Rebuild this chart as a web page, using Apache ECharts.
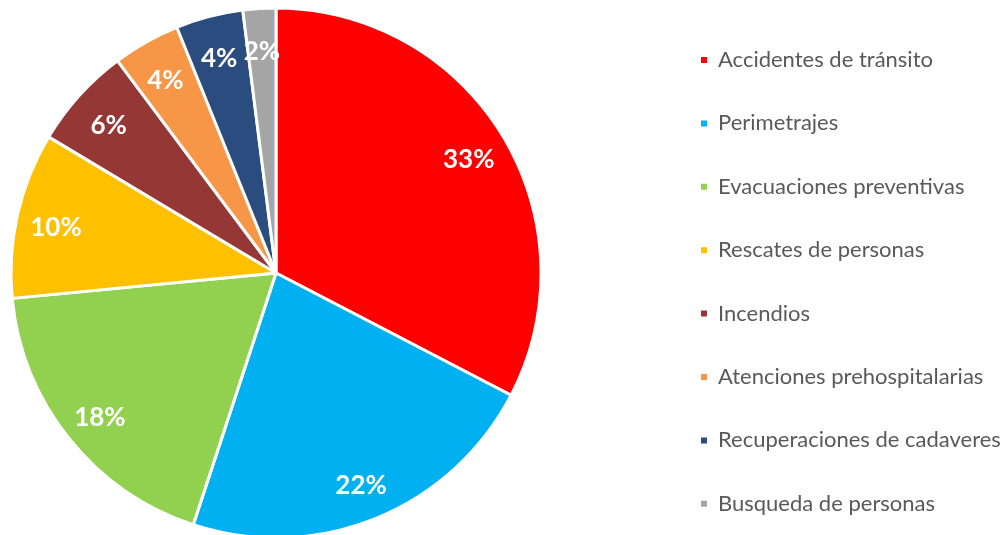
<!DOCTYPE html>
<html>
<head>
<meta charset="utf-8">
<script src="https://cdn.jsdelivr.net/npm/echarts@6/dist/echarts.min.js"></script>
<style>
  html, body { margin: 0; padding: 0; background: #fff; }
  #chart { width: 1008px; height: 535px; }
</style>
</head>
<body>
<div id="chart"></div>
<script>
var categories = ["Accidentes de tránsito", "Perimetrajes", "Evacuaciones preventivas", "Rescates de personas",
                  "Incendios", "Atenciones prehospitalarias", "Recuperaciones de cadaveres", "Busqueda de personas"];
var values = [32.6, 22.4, 18.4, 10.1, 6.2, 4.1, 4.1, 2.0];
var colors = ["#FF0000", "#00B0F0", "#92D050", "#FFC000", "#953735", "#F79646", "#2B4C7E", "#A5A5A5"];

var chart = echarts.init(document.getElementById("chart"));

var pieData = categories.map(function(name, i){
    return { name: name, value: values[i], itemStyle: { color: colors[i] } };
});

var option = {
    animation: false,
    legend: {
        orient: 'vertical',
        left: 699,
        top: 49,
        padding: 0,
        itemWidth: 8,
        itemHeight: 8,
        itemGap: 41.4,
        icon: 'rect',
        selectedMode: false,
        textStyle: {
            fontFamily: 'Lato',
            fontSize: 22,
            lineHeight: 22,
            color: '#595959',
            padding: [0, 0, 0, 5]
        },
        data: categories
    },
    series: [
        {
            type: 'pie',
            center: [276, 273],
            radius: [0, 265],
            startAngle: 90,
            data: pieData,
            itemStyle: { borderColor: '#fff', borderWidth: 3 },
            label: { show: false },
            labelLine: { show: false },
            emphasis: { disabled: true }
        },
        {
            // transparent ring only used to place the percentage labels further out
            type: 'pie',
            center: [276, 273],
            radius: [180, 265],
            startAngle: 90,
            silent: true,
            data: pieData.map(function(d){ return { name: d.name, value: d.value, itemStyle: { color: 'transparent' } }; }),
            label: {
                show: true,
                position: 'inside',
                formatter: function(p){ return Math.round(p.percent) + '%'; },
                color: '#fff',
                fontFamily: 'Lato',
                fontWeight: 'bold',
                fontSize: 26
            },
            labelLayout: { dy: 4 },
            labelLine: { show: false },
            emphasis: { disabled: true }
        }
    ]
};

chart.setOption(option);
</script>
</body>
</html>
